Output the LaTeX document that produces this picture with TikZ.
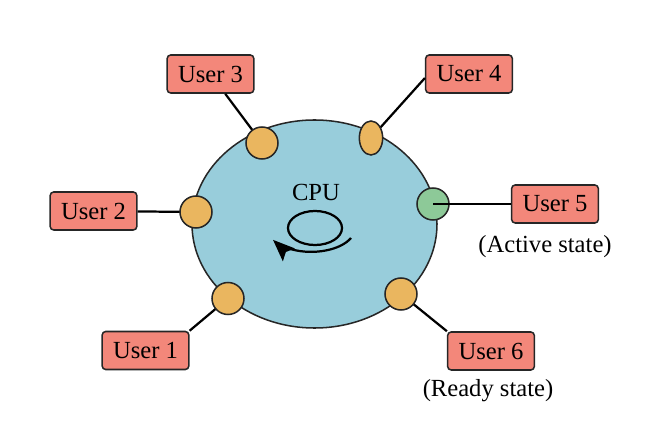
\documentclass[tikz,border=0pt]{standalone}
\usepackage{fontspec}
\setmainfont{Liberation Serif}
\usetikzlibrary{arrows.meta,shapes.geometric}
\definecolor{cpublue}{RGB}{152,205,219}
\definecolor{portor}{RGB}{234,182,95}
\definecolor{portgn}{RGB}{141,201,152}
\definecolor{usrred}{RGB}{243,135,122}
\tikzset{
  usr/.style={draw=black!85,line width=1.3pt,fill=usrred,rounded corners=3pt,
              minimum width=2.6cm,minimum height=1.14cm,inner sep=2pt,
              font=\fontsize{21}{24}\selectfont},
  prt/.style={circle,draw=black!85,line width=1.3pt,fill=portor,
              minimum size=.96cm,inner sep=0pt},
  ln/.style ={line width=1.9pt},
  lbl/.style={font=\fontsize{21}{24}\selectfont},
}
\begin{document}
\begin{tikzpicture}[x=.03cm,y=.03cm]
  \useasboundingbox (0,0) rectangle (662,441);
  % processor
  \node[ellipse,draw=black!85,line width=1.3pt,fill=cpublue,
        minimum width=7.35cm,minimum height=6.24cm] (cpu) at (314.5,217){};
  \node[lbl] (cpulbl) at (316,248.5){CPU};
  \draw[ln] (315,213) ellipse[x radius=27,y radius=17];
  \draw[ln,-{Stealth[length=6.5mm,width=5.2mm,inset=1.2mm]}] (351,203)
        arc[start angle=-25,end angle=-150,x radius=44,y radius=24];
  % users
  \node[usr] (u1) at (145.5,90.5){User 1};
  \node[usr] (u2) at (93.5,230){User 2};
  \node[usr] (u3) at (210.5,367){User 3};
  \node[usr] (u4) at (469,367){User 4};
  \node[usr] (u5) at (555,237){User 5};
  \node[usr] (u6) at (491,90){User 6};
  \node[lbl] (st5) at (545,194){(Active state)};
  \node[lbl] (st6) at (488,50){(Ready state)};
  % ports
  \coordinate (p1) at (228,142.5);
  \coordinate (p2) at (196,229);
  \coordinate (p3) at (262,298);
  \coordinate (p4) at (371,303);
  \coordinate (p6) at (401,147);
  \draw[ln] (u1.north east) -- (p1);
  \draw[ln] (u2) -- (p2);
  \draw[ln] (u3) -- (p3);
  \draw[ln] ([yshift=-.12cm]u4.west) -- (p4);
  \draw[ln] (u6.north west) -- (p6);
  \node[prt] (c1) at (p1){};
  \node[prt] (c2) at (p2){};
  \node[prt] (c3) at (p3){};
  \node[prt,ellipse,minimum width=.7cm,minimum height=1.02cm] (c4) at (p4){};
  \node[prt] (c6) at (p6){};
  \node[prt,fill=portgn] (c5) at (433,237){};
  \draw[line width=1.4pt] (c5.center) -- (u5);
\end{tikzpicture}
\end{document}
